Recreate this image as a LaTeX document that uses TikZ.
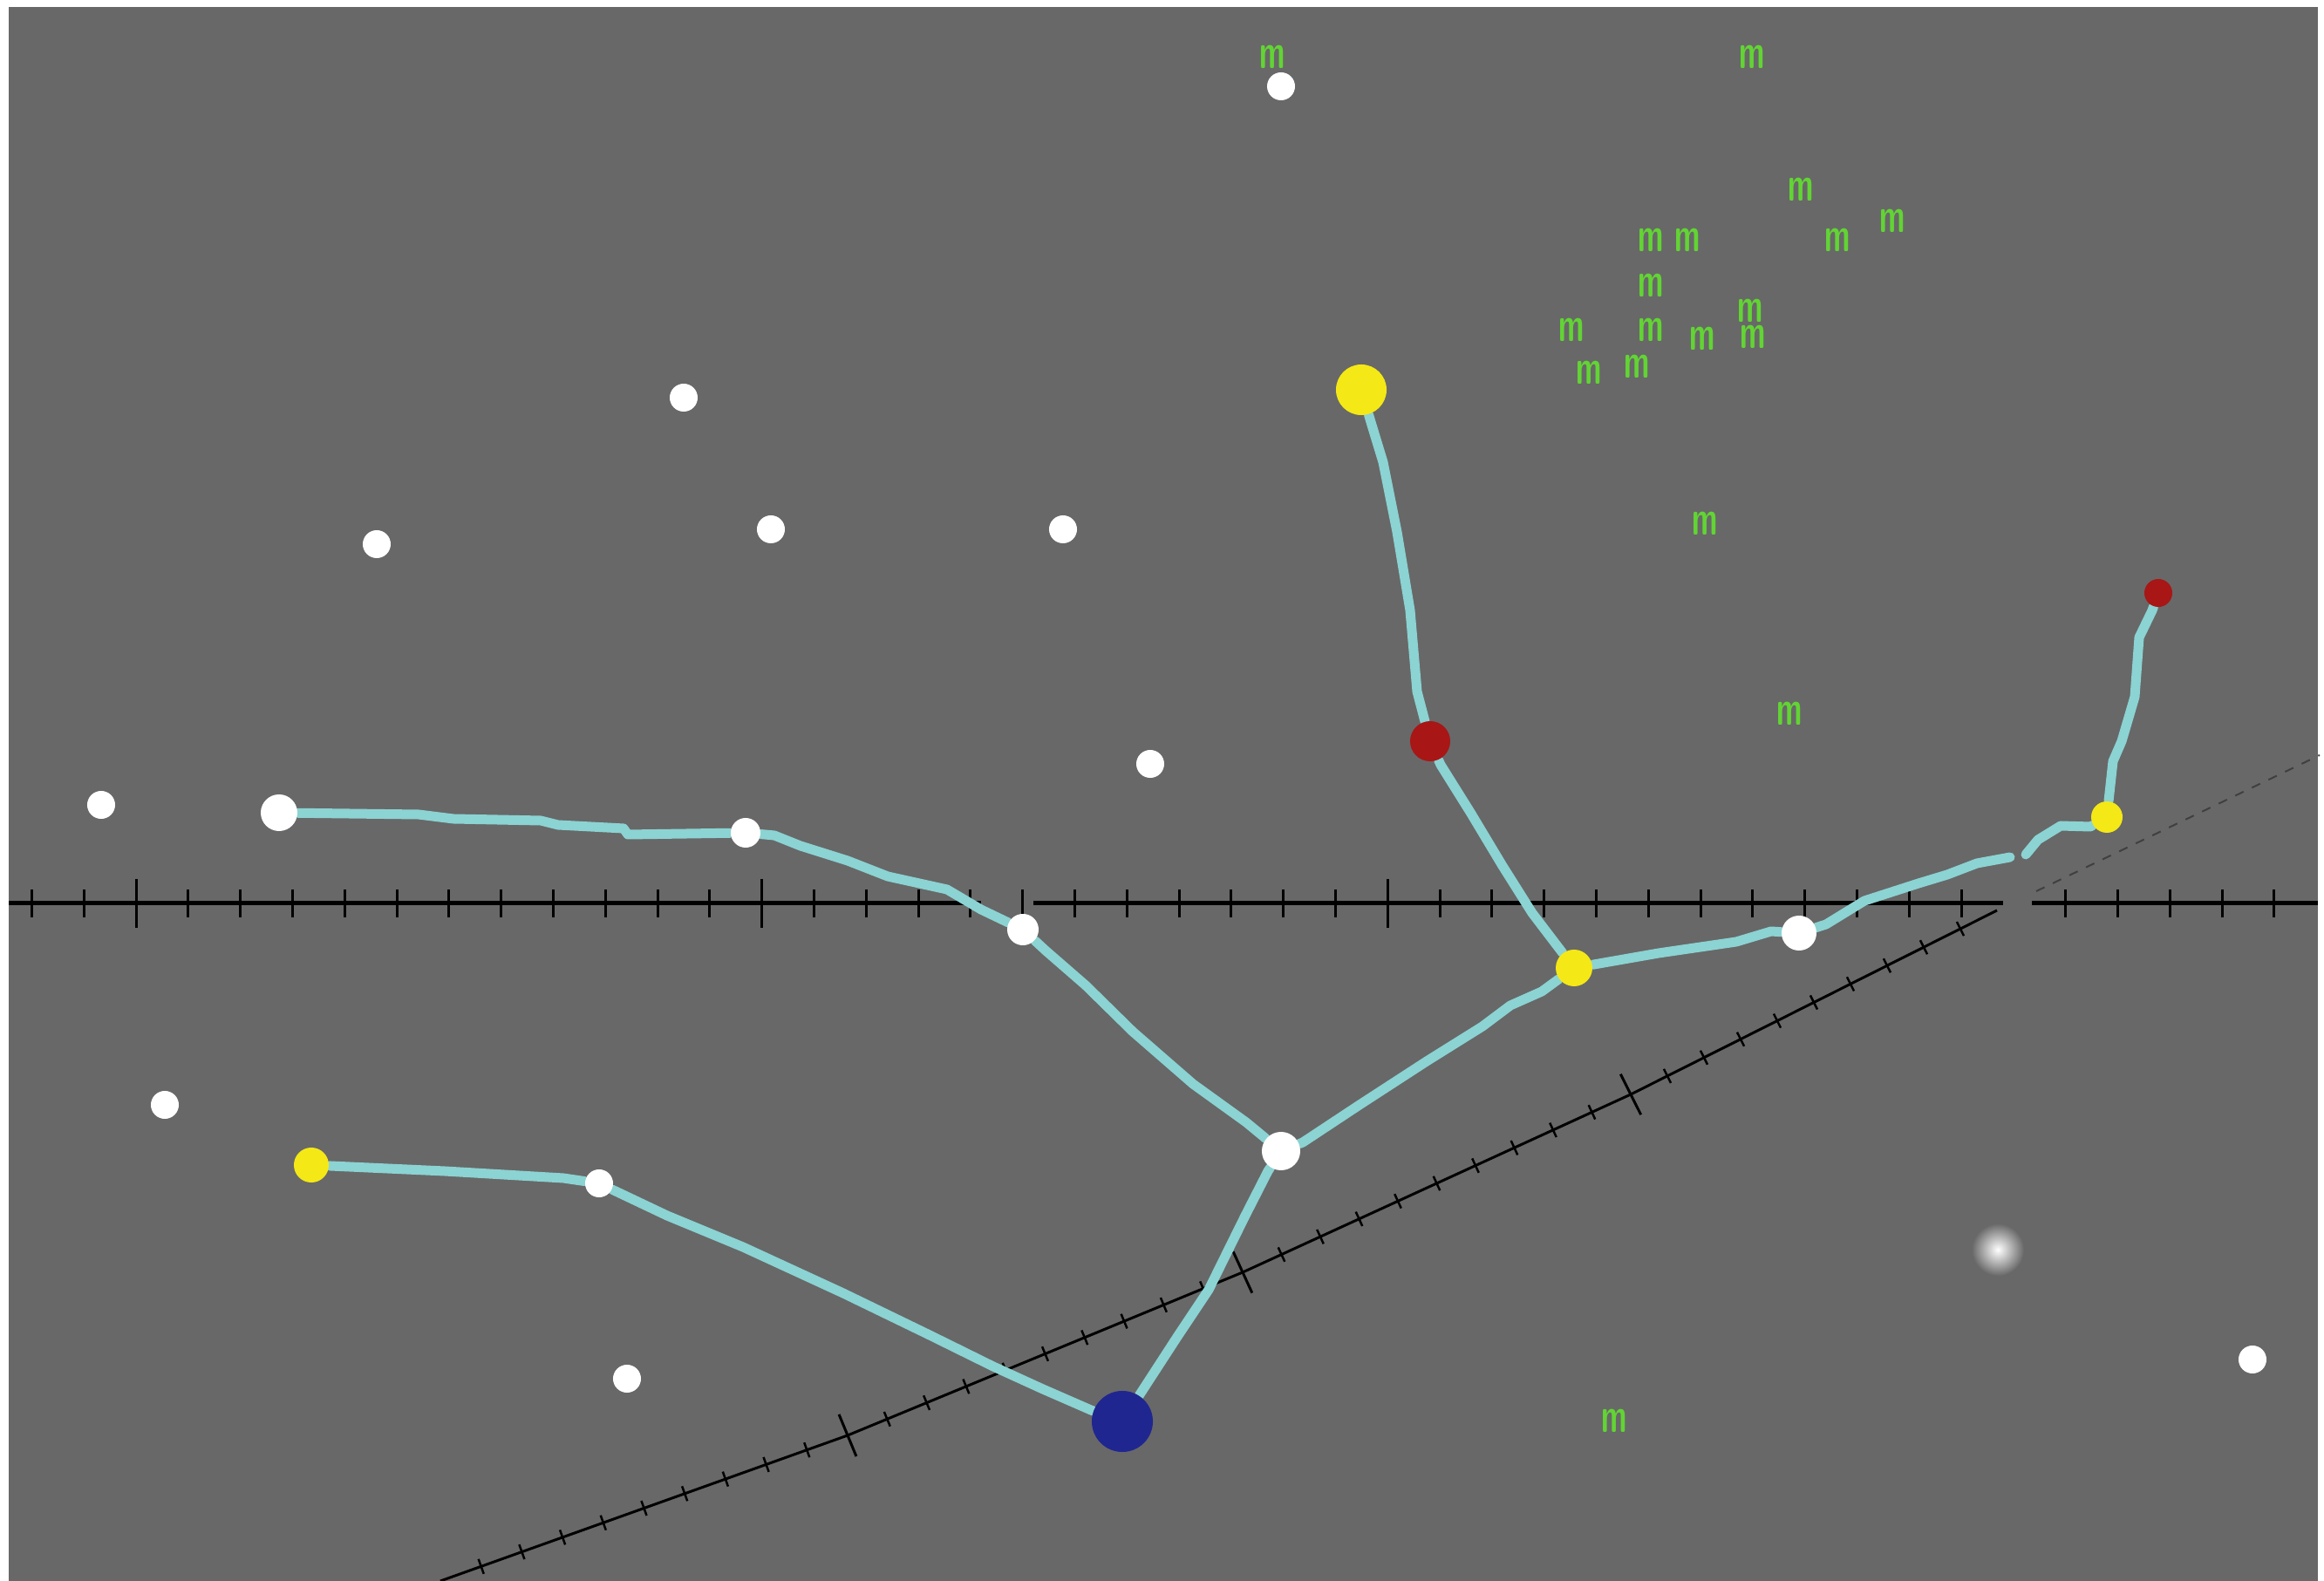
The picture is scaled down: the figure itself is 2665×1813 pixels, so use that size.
\documentclass[tikz,border=0pt]{standalone}
\usepackage{xcolor}
\usetikzlibrary{calc}
\tikzset{
  trail/.style={line width=0.11cm, draw=TrailCyan, line cap=round, line join=round},
  axisline/.style={line width=0.05cm, draw=black},
  tickmark/.style={line width=0.03cm, draw=black},
  diagline/.style={line width=0.03cm, draw=black}
}
\definecolor{SceneGray}{RGB}{104,104,104}
\definecolor{TrailCyan}{RGB}{140,211,211}
\definecolor{SpotYellow}{RGB}{244,232,22}
\definecolor{SpotRed}{RGB}{168,22,22}
\definecolor{SpotBlue}{RGB}{32,38,144}
\definecolor{MarkGreen}{RGB}{98,212,52}
\pgfdeclarelayer{background}
\pgfsetlayers{background,main}

\begin{document}
\begin{tikzpicture}[
  x=0.01cm, y=-0.01cm,
  spot/.style={circle, inner sep=0pt, minimum size=#1},
  whitespot/.style={spot=#1, fill=white},
  whitespot/.default=0.32cm,
  yellowspot/.style={spot=#1, fill=SpotYellow},
  redspot/.style={spot=#1, fill=SpotRed},
  bluespot/.style={spot=#1, fill=SpotBlue},
  greenm/.style={text=MarkGreen, font=\sffamily\bfseries\fontsize{16}{16}\selectfont, inner sep=0pt}
]
\useasboundingbox (0,0) rectangle (2665,1813);

\begin{pgfonlayer}{background}
\fill[white] (0,0) rectangle (2665,1813);
\fill[SceneGray] (10,8) rectangle (2658,1813);

% horizontal axis with its ticks, broken in two places
\draw[axisline] (10,1036) -- (1125,1036);
\draw[axisline] (1185,1036) -- (2297,1036);
\draw[axisline] (2330,1036) -- (2658,1036);
\foreach \k in {-2,...,35,37,38,39,40,41} {
  \pgfmathsetmacro\tx{156+59.8*\k}
  \pgfmathsetmacro\tl{ifthenelse(mod(\k,12)==0,28,16)}
  \draw[tickmark] (\tx,1036-\tl) -- (\tx,1036+\tl);
}

% receding axis
\coordinate (d0) at (505,1813);
\coordinate (d1) at (972,1646);
\coordinate (d2) at (1425,1459);
\coordinate (d3) at (1870,1255);
\coordinate (d4) at (2290,1044);
\draw[diagline] (d0) -- (d1) -- (d2) -- (d3) -- (d4);
\foreach \a/\b in {d0/d1,d1/d2,d2/d3,d3/d4} {
  \foreach \t in {0.1,0.2,...,0.9}
    \draw[tickmark, line width=0.025cm] ($(\a)!\t!(\b)!0.09cm!90:(\b)$) -- ($(\a)!\t!(\b)!0.09cm!-90:(\b)$);
}
\foreach \a/\b in {d1/d2,d2/d3,d3/d4}
  \draw[tickmark] ($(\a)!0.26cm!90:(\b)$) -- ($(\a)!0.26cm!-90:(\b)$);
\draw[diagline, dashed, draw=black!75, line width=0.02cm] (2335,1022) -- (2660,866);
\end{pgfonlayer}

% loose white spots
\foreach \sx/\sy [count=\i] in {1469/99, 784/456, 432/624, 884/607, 1219/607,
    1319/876, 116/923, 189/1267, 719/1581, 2583/1559}
  \node[whitespot] (w\i) at (\sx,\sy) {};
\node[spot=0.6cm, inner color=white, outer color=SceneGray] (glow) at (2291,1433) {};

% spots on the trails
\node[whitespot=0.42cm] (wA) at (320,932) {};
\node[whitespot=0.34cm] (wB) at (855,955) {};
\node[whitespot=0.36cm] (wC) at (1173,1066) {};
\node[whitespot=0.44cm] (hub) at (1469,1320) {};
\node[yellowspot=0.40cm] (yE) at (357,1336) {};
\node[whitespot=0.32cm] (wF) at (687,1357) {};
\node[bluespot=0.70cm] (base) at (1287,1630) {};
\node[yellowspot=0.58cm] (ytop) at (1561,447) {};
\node[redspot=0.46cm] (rmid) at (1640,850) {};
\node[yellowspot=0.42cm] (yknee) at (1805,1110) {};
\node[whitespot=0.40cm] (wK) at (2063,1070) {};
\node[yellowspot=0.36cm] (yright) at (2416,937) {};
\node[redspot=0.32cm] (rtip) at (2475,680) {};

% green marks
\foreach \mx/\my [count=\i] in {1459/65, 2009/65, 2065/217, 2170/253, 2107/275,
    1893/275, 1935/275, 1893/327, 2007/356, 2010/386, 1952/388, 1893/378,
    1802/378, 1822/427, 1877/420, 1955/600, 2052/818, 1851/1629}
  \node[greenm] (m\i) at (\mx,\my) {\scalebox{0.6}[1]{m}};

% trails
\coordinate (gapL) at (2305,983);
\coordinate (gapR) at (2323,980);
\begin{pgfonlayer}{background}
\draw[trail] (wA) -- (480,934) -- (520,939) -- (620,941) -- (640,946) -- (715,950) -- (720,957) -- (wB);
\draw[trail] (wB) -- (888,958) -- (918,970) -- (972,987) -- (1018,1005) -- (1086,1020) -- (1125,1043) -- (wC);
\draw[trail] (wC) -- (1199,1090) -- (1245,1130) -- (1299,1183) -- (1368,1243) -- (1429,1287) -- (hub);
\draw[trail] (hub) -- (1494,1310) -- (1559,1267) -- (1636,1217) -- (1700,1177) -- (1732,1153) -- (1768,1137) -- (yknee);
\draw[trail] (yknee) -- (1757,1047) -- (1723,993) -- (1687,933) -- (1652,877) -- (rmid);
\draw[trail] (rmid) -- (1625,793) -- (1617,700) -- (1602,610) -- (1586,530) -- (1572,484) -- (ytop);
\draw[trail] (yknee) -- (1902,1093) -- (1991,1080) -- (2031,1068) -- (wK);
\draw[trail] (wK) -- (2094,1060) -- (2138,1033) -- (2200,1013) -- (2233,1003) -- (2267,990) -- (gapL);
\draw[trail] (gapR) -- (2337,963) -- (2363,947) -- (2397,948) -- (yright);
\draw[trail] (yright) -- (2423,873) -- (2433,850) -- (2448,799) -- (2453,731) -- (2468,700) -- (rtip);
\draw[trail] (yE) -- (510,1343) -- (646,1351) -- (wF);
\draw[trail] (wF) -- (765,1394) -- (852,1430) -- (967,1483) -- (1064,1530) -- (1139,1567) -- (1196,1593) -- (1251,1617) -- (base);
\draw[trail] (base) -- (1350,1533) -- (1386,1479) -- (1428,1394) -- (1454,1343) -- (hub);
\end{pgfonlayer}
\end{tikzpicture}
\end{document}
